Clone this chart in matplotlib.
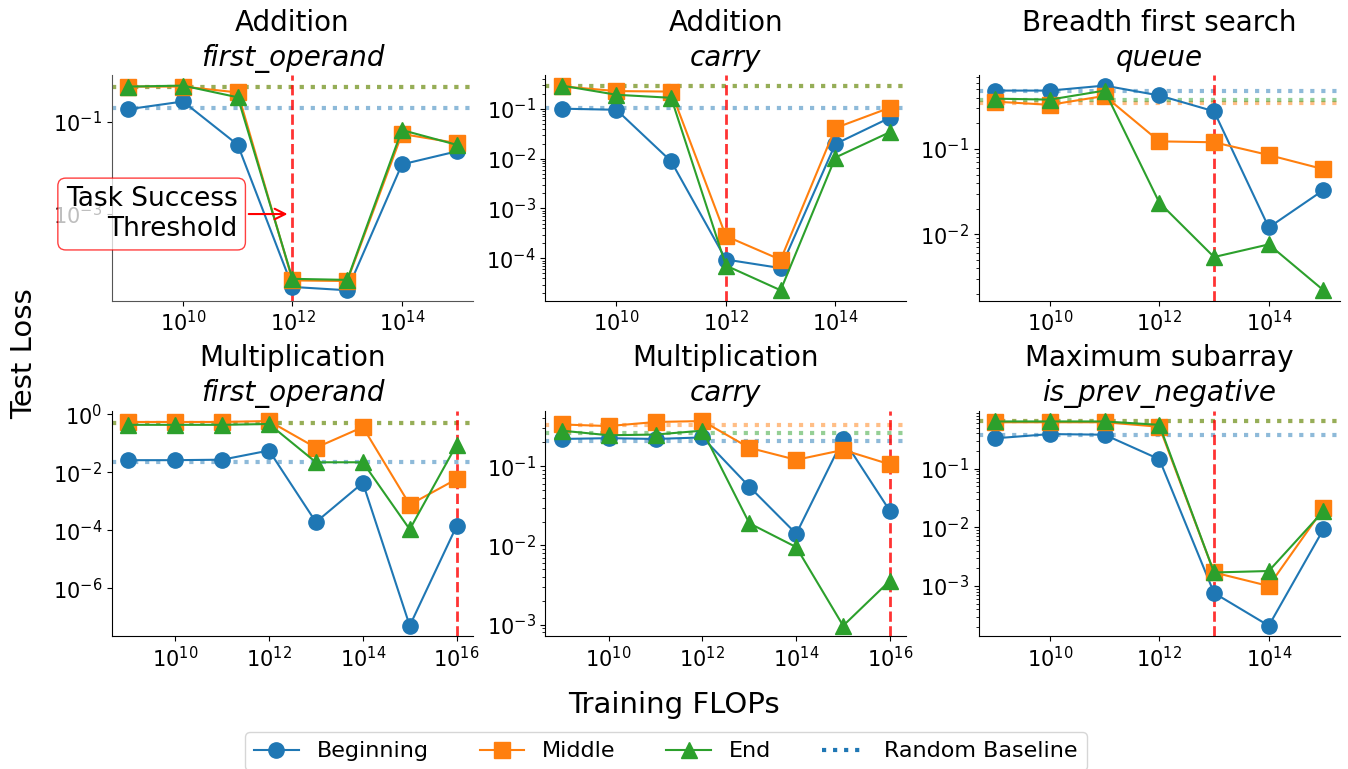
import matplotlib
matplotlib.use("Agg")
import matplotlib.pyplot as plt
import matplotlib.ticker as ticker
from matplotlib.lines import Line2D

flops_short = [1e9, 1e10, 1e11, 1e12, 1e13, 1e14, 1e15]
flops_long = [1e9, 1e10, 1e11, 1e12, 1e13, 1e14, 1e15, 1e16]

tasks = ["Addition", "Addition", "Breadth first search",
         "Multiplication", "Multiplication", "Maximum subarray"]
variables = ["first_operand", "carry", "queue",
             "first_operand", "carry", "is_prev_negative"]
flops = [flops_short, flops_short, flops_short,
         flops_long, flops_long, flops_short]

# loss per probe position (beginning / middle / end)
beginning = [
    [0.19, 0.28, 0.032, 2.6e-5, 2.2e-5, 0.012, 0.023],
    [0.10, 0.095, 0.0088, 9.5e-5, 6.4e-5, 0.0196, 0.066],
    [0.485, 0.485, 0.555, 0.425, 0.277, 0.012, 0.033],
    [0.026, 0.026, 0.027, 0.056, 1.9e-4, 0.0043, 5.1e-8, 1.4e-4],
    [0.22, 0.225, 0.22, 0.23, 0.055, 0.014, 0.22, 0.027],
    [0.33, 0.39, 0.38, 0.145, 7.6e-4, 2.1e-4, 0.0093],
]
middle = [
    [0.59, 0.59, 0.44, 3.6e-5, 3.5e-5, 0.055, 0.035],
    [0.28, 0.225, 0.22, 2.8e-4, 9.4e-5, 0.041, 0.105],
    [0.36, 0.33, 0.42, 0.123, 0.12, 0.085, 0.058],
    [0.54, 0.54, 0.54, 0.58, 0.07, 0.36, 7.6e-4, 0.0058],
    [0.335, 0.32, 0.36, 0.37, 0.17, 0.12, 0.16, 0.105],
    [0.62, 0.62, 0.62, 0.52, 0.0017, 0.001, 0.021],
]
end = [
    [0.59, 0.62, 0.345, 3.9e-5, 3.7e-5, 0.067, 0.032],
    [0.29, 0.19, 0.165, 7.2e-5, 2.3e-5, 0.0105, 0.034],
    [0.39, 0.38, 0.485, 0.0235, 0.0054, 0.0076, 0.0022],
    [0.43, 0.43, 0.43, 0.46, 0.022, 0.022, 1.07e-4, 0.089],
    [0.28, 0.245, 0.25, 0.28, 0.019, 0.0095, 0.00097, 0.0036],
    [0.64, 0.64, 0.64, 0.56, 0.0017, 0.0018, 0.019],
]

# random baselines (beginning, middle, end)
baselines = [
    [0.20, 0.59, 0.59],
    [0.105, 0.28, 0.28],
    [0.48, 0.35, 0.38],
    [0.023, 0.50, 0.50],
    [0.21, 0.33, 0.26],
    [0.37, 0.65, 0.65],
]
thresholds = [1e12, 1e12, 1e13, 1e16, 1e16, 1e13]

colors = ["tab:blue", "tab:orange", "tab:green"]
markers = ["o", "s", "^"]
labels = ["Beginning", "Middle", "End"]

fig, axes = plt.subplots(2, 3, figsize=(13.48, 7.69), dpi=100)
plt.subplots_adjust(left=0.083, right=0.994, top=0.902, bottom=0.173,
                    wspace=0.2, hspace=0.49)

for i, ax in enumerate(axes.flat):
    x = flops[i]
    series = [beginning[i], middle[i], end[i]]
    for j in range(3):
        ax.axhline(baselines[i][j], color=colors[j], ls=":", lw=3, alpha=0.5, zorder=1)
    for j in range(3):
        ax.plot(x, series[j], marker=markers[j], color=colors[j], ms=11,
                lw=1.5, label=labels[j], zorder=3)
    ax.axvline(thresholds[i], color="red", ls="--", lw=2, alpha=0.8, zorder=2)
    ax.set_xscale("log")
    ax.set_yscale("log")
    ax.xaxis.set_minor_locator(ticker.NullLocator())
    ax.tick_params(labelsize=15)
    ax.spines["top"].set_visible(False)
    ax.spines["right"].set_visible(False)
    ax.annotate(tasks[i], xy=(0.5, 1), xycoords="axes fraction",
                xytext=(0, 32), textcoords="offset points",
                ha="center", va="baseline", fontsize=20)
    ax.annotate(variables[i], xy=(0.5, 1), xycoords="axes fraction",
                xytext=(0, 7), textcoords="offset points",
                ha="center", va="baseline", fontsize=20, style="italic")

ax0 = axes[0, 0]
ax0.yaxis.set_major_locator(ticker.LogLocator(base=10, numticks=3))
ax0.yaxis.set_minor_locator(ticker.NullLocator())
for s in ["left", "bottom"]:
    ax0.spines[s].set_color("#555555")
ax0.annotate("Task Success\nThreshold", xy=(10**11.96, 1e-3),
             xytext=(-38, 0), textcoords="offset points",
             ha="right", va="center", multialignment="right", fontsize=19,
             bbox=dict(boxstyle="round,pad=0.3", fc="white", ec="red",
                       alpha=0.75, lw=1),
             arrowprops=dict(arrowstyle="->", color="red", lw=1.5),
             zorder=5)

fig.supxlabel("Training FLOPs", fontsize=21, y=0.065)
fig.supylabel("Test Loss", fontsize=21, x=0.0075, y=0.54)

handles = [Line2D([], [], color=colors[j], marker=markers[j], ms=11, lw=1.5)
           for j in range(3)]
handles.append(Line2D([], [], color="tab:blue", ls=":", lw=3))
fig.legend(handles, labels + ["Random Baseline"], loc="upper center",
           bbox_to_anchor=(0.494, 0.062), ncol=4, fontsize=16,
           columnspacing=2.3)

plt.savefig("out.png", dpi=100)
